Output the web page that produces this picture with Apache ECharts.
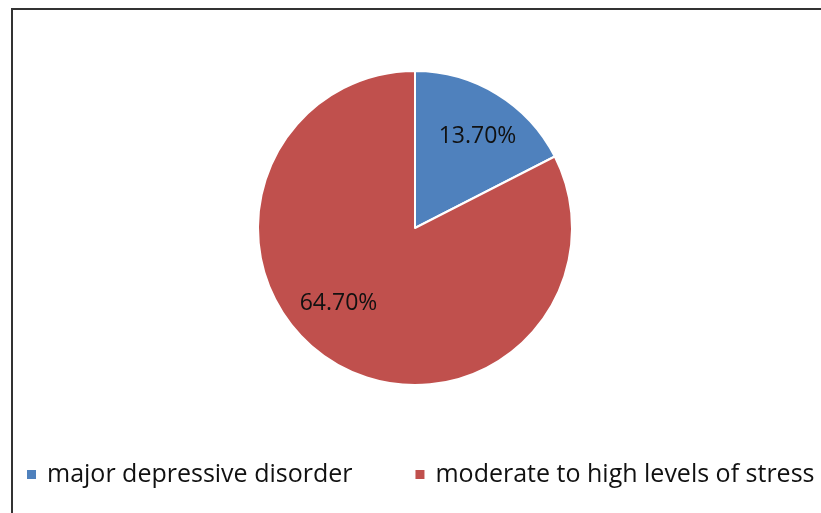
<!DOCTYPE html>
<html>
<head>
<meta charset="utf-8">
<script src="https://cdn.jsdelivr.net/npm/echarts@6/dist/echarts.min.js"></script>
<style>
  html, body { margin: 0; padding: 0; background: #fff; }
  #wrap { position: relative; width: 821px; height: 513px; overflow: hidden; }
  #frame { position: absolute; left: 11px; top: 8px; width: 830px; height: 530px;
           border-top: 2px solid #333; border-left: 2px solid #333; box-sizing: border-box; }
  #chart { position: absolute; left: 0; top: 0; width: 821px; height: 513px; }
</style>
</head>
<body>
<div id="wrap">
  <div id="frame"></div>
  <div id="chart"></div>
</div>
<script>
// Share of respondents by outcome
const categories = ['major depressive disorder', 'moderate to high levels of stress'];
const shares = [13.7, 64.7];
const colors = ['#4F81BD', '#C0504D'];
const labelOffsets = [[20, -22], [-34, 6]];

const chart = echarts.init(document.getElementById('chart'), null, { renderer: 'canvas' });

const data = categories.map((name, i) => ({
  name: name,
  value: shares[i],
  itemStyle: { color: colors[i] },
  label: { offset: labelOffsets[i] }
}));

chart.setOption({
  animation: false,
  backgroundColor: 'transparent',
  legend: {
    data: categories,
    left: 20,
    top: 457,
    icon: 'rect',
    itemWidth: 11,
    itemHeight: 11,
    itemGap: 61,
    textStyle: { fontFamily: 'Open Sans', fontSize: 25, color: '#111', padding: [0, 0, 0, 5] }
  },
  series: [{
    type: 'pie',
    center: [415, 228],
    radius: 157,
    startAngle: 90,
    clockwise: true,
    data: data,
    itemStyle: { borderColor: '#fff', borderWidth: 2 },
    label: {
      show: true,
      position: 'inside',
      formatter: p => p.value.toFixed(2) + '%',
      fontFamily: 'Open Sans',
      fontSize: 23,
      color: '#111'
    },
    labelLine: { show: false },
    emphasis: { disabled: true }
  }]
});
</script>
</body>
</html>
